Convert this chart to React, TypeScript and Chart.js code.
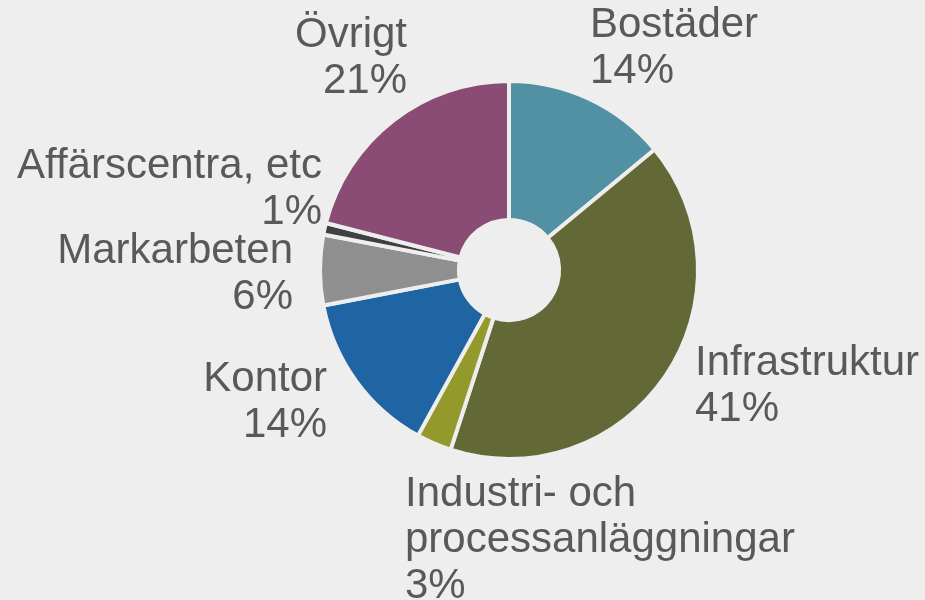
import React, { useEffect, useRef } from "react";
import { Chart, registerables } from "chart.js";

Chart.register(...registerables);

const categories = [
  "Bostäder",
  "Infrastruktur",
  "Industri- och processanläggningar",
  "Kontor",
  "Markarbeten",
  "Affärscentra, etc",
  "Övrigt",
];
const values = [14, 41, 3, 14, 6, 1, 21];
const labelLines = [
  ["Bostäder", "14%"],
  ["Infrastruktur", "41%"],
  ["Industri- och", "processanläggningar", "3%"],
  ["Kontor", "14%"],
  ["Markarbeten", "6%"],
  ["Affärscentra, etc", "1%"],
  ["Övrigt", "21%"],
];
const colors = ["#5191a3", "#636936", "#939a2b", "#1f65a3", "#8f8f8f", "#404040", "#8a4b75"];

// label anchor offsets relative to the pie centre (style, not data)
const labelStyle: { dx: number; dy: number; align: CanvasTextAlign }[] = [
  { dx: 81, dy: -233, align: "left" },
  { dx: 186, dy: 105, align: "left" },
  { dx: -104, dy: 236, align: "left" },
  { dx: -182, dy: 121, align: "right" },
  { dx: -216, dy: -7, align: "right" },
  { dx: -187, dy: -92, align: "right" },
  { dx: -102, dy: -223, align: "right" },
];

const labelPlugin = {
  id: "outLabels",
  afterDraw(chart: any) {
    const meta = chart.getDatasetMeta(0);
    const arc = meta.data[0];
    if (!arc) return;
    const cx = arc.x;
    const cy = arc.y;
    const ctx = chart.ctx;
    ctx.save();
    ctx.fillStyle = "#595959";
    ctx.font = '42px "Liberation Sans", Arial, sans-serif';
    ctx.textBaseline = "alphabetic";
    labelLines.forEach((lines, i) => {
      const s = labelStyle[i];
      ctx.textAlign = s.align;
      lines.forEach((t, j) => {
        ctx.fillText(t, cx + s.dx, cy + s.dy + j * 46);
      });
    });
    ctx.restore();
  },
};

export default function App() {
  const ref = useRef<HTMLCanvasElement>(null);
  useEffect(() => {
    document.body.style.margin = "0";
    document.body.style.background = "#eeeeee";
    const chart = new Chart(ref.current!, {
      type: "doughnut",
      data: {
        labels: categories,
        datasets: [
          {
            data: values,
            backgroundColor: colors,
            borderColor: "#eeeeee",
            borderWidth: 4,
          },
        ],
      },
      options: {
        animation: false,
        responsive: false,
        maintainAspectRatio: false,
        radius: 189,
        cutout: "26.5%",
        layout: { padding: { left: 93, right: 0, top: 0, bottom: 60 } },
        plugins: {
          legend: { display: false },
          tooltip: { enabled: false },
        },
      },
      plugins: [labelPlugin],
    });
    return () => chart.destroy();
  }, []);
  return (
    <div style={{ width: 925, height: 600, background: "#eeeeee" }}>
      <canvas ref={ref} width={925} height={600} />
    </div>
  );
}
